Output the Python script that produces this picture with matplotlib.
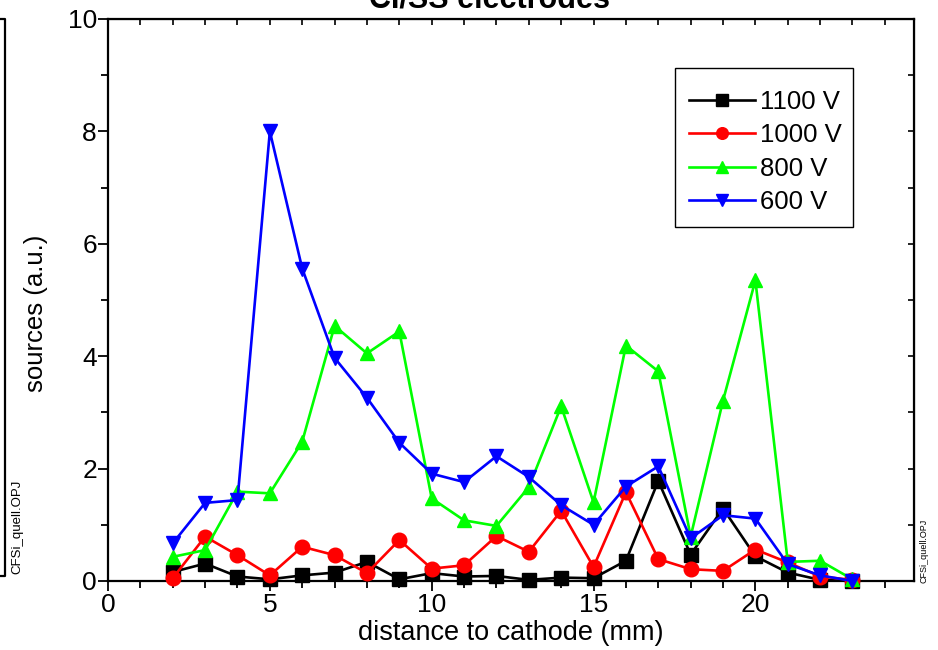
import matplotlib
matplotlib.use("Agg")
import matplotlib.pyplot as plt
from matplotlib.ticker import MultipleLocator
from matplotlib.lines import Line2D
from matplotlib.patches import Rectangle

plt.rcParams['font.family'] = ['Liberation Sans', 'DejaVu Sans']

# distance to cathode (mm)
distance = [2, 3, 4, 5, 6, 7, 8, 9, 10, 11, 12, 13, 14, 15, 16, 17, 18, 19, 20, 21, 22, 23]

# source strength (a.u.) per discharge voltage
src_1100 = [0.16, 0.31, 0.08, 0.03, 0.10, 0.15, 0.34, 0.03, 0.14, 0.08, 0.09, 0.02,
            0.06, 0.05, 0.36, 1.78, 0.47, 1.29, 0.44, 0.15, 0.02, 0.00]
src_1000 = [0.05, 0.79, 0.46, 0.10, 0.61, 0.46, 0.14, 0.73, 0.22, 0.28, 0.80, 0.52,
            1.25, 0.25, 1.58, 0.39, 0.21, 0.18, 0.56, 0.33, 0.08, 0.02]
src_800 = [0.43, 0.55, 1.59, 1.56, 2.48, 4.54, 4.05, 4.44, 1.47, 1.08, 0.98, 1.67,
           3.11, 1.40, 4.19, 3.73, 0.79, 3.21, 5.35, 0.34, 0.36, 0.03]
src_600 = [0.67, 1.39, 1.44, 8.00, 5.56, 3.97, 3.26, 2.46, 1.91, 1.76, 2.22, 1.85,
           1.35, 1.00, 1.68, 2.04, 0.76, 1.17, 1.11, 0.30, 0.10, 0.00]

series = [
    ("1100 V", src_1100, "black", "s"),
    ("1000 V", src_1000, "red", "o"),
    ("800 V", src_800, "#00ff00", "^"),
    ("600 V", src_600, "blue", "v"),
]

W, H = 938, 650
fig = plt.figure(figsize=(W / 100, H / 100), dpi=100)
ax = fig.add_axes([108 / W, 69 / H, (914 - 108) / W, (581 - 19) / H])

for label, vals, color, marker in series:
    ax.plot(distance, vals, color=color, lw=1.9, marker=marker, ms=10.5,
            mec=color, mfc=color, label=label, clip_on=False, zorder=3)

ax.set_xlim(0, 24.9)
ax.set_ylim(0, 10)
ax.xaxis.set_major_locator(MultipleLocator(5))
ax.xaxis.set_minor_locator(MultipleLocator(1))
ax.yaxis.set_major_locator(MultipleLocator(2))
ax.yaxis.set_minor_locator(MultipleLocator(1))
ax.tick_params(which='both', direction='out', width=1.3, labelsize=19)
ax.tick_params(axis='x', pad=2)
ax.tick_params(axis='y', pad=1)
ax.tick_params(which='major', length=7)
ax.tick_params(which='minor', length=5)
for sp in ax.spines.values():
    sp.set_linewidth(1.6)

# mirrored inward ticks on the top and right frame
top = ax.secondary_xaxis('top')
top.xaxis.set_major_locator(MultipleLocator(5))
top.xaxis.set_minor_locator(MultipleLocator(1))
top.tick_params(which='both', direction='in', width=1.2, length=4, labeltop=False)
right = ax.secondary_yaxis('right')
right.yaxis.set_major_locator(MultipleLocator(2))
right.yaxis.set_minor_locator(MultipleLocator(1))
right.tick_params(which='both', direction='in', width=1.2, length=4, labelright=False)

ax.set_xlabel("distance to cathode (mm)", fontsize=19.5, labelpad=2)
ax.set_ylabel("sources (a.u.)", fontsize=18.5)
ax.yaxis.set_label_coords((48 - 108) / 806, (581 - 313) / 562)

# legend entries with a separately drawn box
leg = ax.legend(loc='upper left', bbox_to_anchor=(689 / W, (H - 90) / H),
                bbox_transform=fig.transFigure, borderaxespad=0, borderpad=0,
                fontsize=18.5, frameon=False, handlelength=2.55,
                handletextpad=0.2, labelspacing=0.36, markerscale=0.8)
fig.add_artist(Rectangle((675 / W, (H - 227) / H), (853 - 675) / W, (227 - 68) / H,
                         transform=fig.transFigure, fill=False, ec='black',
                         lw=1.0, zorder=5))

fig.text(0.522, (H - 7) / H, "CI/SS electrodes", fontsize=22, fontweight='bold',
         ha='center', va='baseline')

fig.text(17 / W, (H - 527) / H, "CFSi_quell.OPJ", fontsize=9.5, rotation=90,
         ha='center', va='center')
fig.text(924 / W, (H - 551) / H, "CFSi_quell.OPJ", fontsize=6.5, rotation=90,
         ha='center', va='center')

# edge of the neighbouring panel on the left
fig.add_artist(Line2D([0, 5 / W, 5 / W, 0], [(H - 19) / H, (H - 19) / H,
                                             (H - 576) / H, (H - 576) / H],
                      color='black', lw=1.6, transform=fig.transFigure))

fig.savefig("out.png", dpi=100)
